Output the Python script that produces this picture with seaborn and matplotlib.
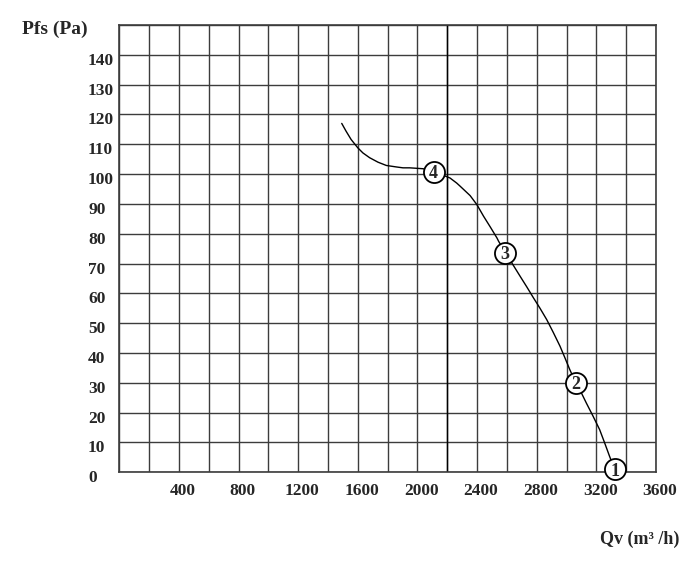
import matplotlib
matplotlib.use("Agg")
import matplotlib.pyplot as plt
import matplotlib.transforms as mtransforms
import seaborn as sns
import pandas as pd

# ---- data ----
curve_qv = [1492, 1521, 1555, 1600, 1634, 1679, 1735, 1791, 1858, 1903, 1948, 2038,
            2108, 2173, 2218, 2263, 2285, 2353, 2398, 2420, 2443, 2488, 2533, 2544,
            2590, 2622, 2689, 2733, 2778, 2822, 2867, 2911, 2956, 2989, 3022, 3062,
            3089, 3133, 3178, 3222, 3256, 3289, 3322]
curve_pfs = [117.0, 114.4, 111.6, 108.8, 107.1, 105.5, 104.0, 102.9, 102.4, 102.1, 102.1, 101.8,
             100.8, 99.6, 98.7, 97.0, 96.0, 92.8, 89.8, 87.9, 85.9, 82.3, 78.6, 77.5,
             73.6, 71.1, 65.7, 62.2, 58.5, 55.0, 51.2, 46.9, 42.3, 38.4, 34.4, 30.0,
             27.7, 23.2, 18.8, 14.3, 9.8, 5.3, 1.1]

point_labels = ["4", "3", "2", "1"]
point_qv = [2108, 2588, 3062, 3322]
point_pfs = [100.8, 73.6, 30.0, 1.1]

x_grid = list(range(0, 3601, 200))
x_tick_labels = ["" if (v == 0 or v % 400) else str(v) for v in x_grid]
y_grid = list(range(0, 151, 10))
y_tick_labels = [str(v) if v <= 140 else "" for v in y_grid]

x_title = "Qv (m³ /h)"
y_title = "Pfs (Pa)"

# ---- plotting ----
sns.set_style("white")
plt.rcParams["font.family"] = ["Liberation Serif", "DejaVu Serif"]

fig = plt.figure(figsize=(7.0, 5.64), dpi=100)
ax = fig.add_axes([119.3 / 700, (564 - 472.3) / 564, (656 - 119.3) / 700, (472.3 - 25) / 564])

curve = pd.DataFrame({"Qv": curve_qv, "Pfs": curve_pfs})
pts = pd.DataFrame({"Qv": point_qv, "Pfs": point_pfs, "lab": point_labels})

grid_color = "#3c3c3c"
ax.set_xlim(0, 3600)
ax.set_ylim(0, 150)
ax.set_xticks(x_grid)
ax.set_xticklabels(x_tick_labels, fontsize=12.5, fontweight="bold")
ax.set_yticks(y_grid)
ax.set_yticklabels(y_tick_labels, fontsize=12.5, fontweight="bold", ha="left")
ax.tick_params(axis="both", length=0)
ax.tick_params(axis="y", pad=22.5)
ax.tick_params(axis="x", pad=8)
ax.grid(True, color=grid_color, linewidth=1.0)
ax.set_axisbelow(True)
for s in ax.spines.values():
    s.set_visible(True)
    s.set_color(grid_color)
    s.set_linewidth(1.2)
ax.axvline(2200, color="black", linewidth=1.0, zorder=1)

# shift tick labels slightly like the reference
off_y = mtransforms.ScaledTranslation(0, -4 / 100, fig.dpi_scale_trans)
for lab in ax.get_yticklabels():
    lab.set_transform(lab.get_transform() + off_y)
off_x = mtransforms.ScaledTranslation(4 / 100, 0, fig.dpi_scale_trans)
for lab in ax.get_xticklabels():
    lab.set_transform(lab.get_transform() + off_x)

sns.lineplot(data=curve, x="Qv", y="Pfs", sort=False, color="black", linewidth=1.0,
             ax=ax, zorder=3)
sns.scatterplot(data=pts, x="Qv", y="Pfs", s=230, color="white", edgecolor="black",
                linewidth=1.3, ax=ax, zorder=4, legend=False, clip_on=False)
for lab, qx, py in zip(pts["lab"], pts["Qv"], pts["Pfs"]):
    ax.text(qx, py, lab, ha="center", va="center_baseline", fontsize=13, fontweight="bold",
            zorder=5, clip_on=False)

ax.set_xlabel("")
ax.set_ylabel("")

fig.text(22 / 700, (564 - 29) / 564, y_title, ha="left", va="center",
         fontsize=14, fontweight="bold")
fig.text(600 / 700, (564 - 539) / 564, x_title, ha="left", va="center",
         fontsize=13, fontweight="bold")

fig.savefig("out.png", dpi=100)
